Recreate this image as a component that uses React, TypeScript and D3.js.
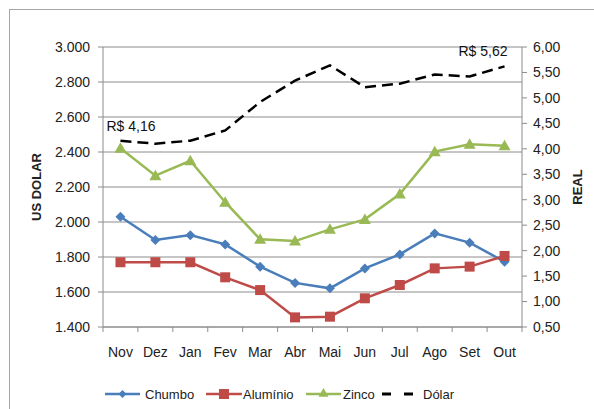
import * as d3 from 'd3';

const months = ['Nov', 'Dez', 'Jan', 'Fev', 'Mar', 'Abr', 'Mai', 'Jun', 'Jul', 'Ago', 'Set', 'Out'];
const chumbo = [2030, 1897, 1925, 1872, 1745, 1652, 1621, 1735, 1815, 1935, 1882, 1773];
const aluminio = [1770, 1770, 1770, 1684, 1611, 1455, 1459, 1564, 1640, 1735, 1745, 1806];
const zinco = [2421, 2265, 2350, 2113, 1901, 1891, 1958, 2015, 2160, 2402, 2444, 2436];
const dolar = [4.16, 4.1, 4.16, 4.36, 4.92, 5.34, 5.64, 5.21, 5.28, 5.46, 5.42, 5.62];
const leftTicks = [1400, 1600, 1800, 2000, 2200, 2400, 2600, 2800, 3000];
const rightTicks = [0.5, 1, 1.5, 2, 2.5, 3, 3.5, 4, 4.5, 5, 5.5, 6];

const W = 594;
const H = 409;
const FONT = '"Liberation Sans", Arial, sans-serif';
const BLUE = '#4a7ebb';
const RED = '#be4b48';
const GREEN = '#98b954';

const fmtLeft = (v: number) => d3.format(',')(v).replace(',', '.');
const fmtRight = (v: number) => v.toFixed(2).replace('.', ',');

export default function App() {
  const left = 103;
  const right = 522;
  const top = 47;
  const bottom = 327;

  const x = d3.scaleBand<string>().domain(months).range([left, right]).padding(0);
  const cx = (m: string) => (x(m) ?? 0) + x.bandwidth() / 2;
  const yL = d3.scaleLinear().domain([1400, 3000]).range([bottom, top]);
  const yR = d3.scaleLinear().domain([0.5, 6]).range([bottom, top]);

  const lineL = d3.line<number>().x((_, i) => cx(months[i])).y((d) => yL(d));
  const lineR = d3.line<number>().x((_, i) => cx(months[i])).y((d) => yR(d));

  const diamond = (px: number, py: number, s = 5) =>
    `M${px},${py - s}L${px + s},${py}L${px},${py + s}L${px - s},${py}Z`;
  const tri = (px: number, py: number, s = 6) =>
    `M${px},${py - s}L${px + s},${py + s * 0.75}L${px - s},${py + s * 0.75}Z`;

  const boundaries = months.map((m) => x(m) ?? 0).concat([right]);
  const last = months.length - 1;

  return (
    <svg width={W} height={H} style={{ position: 'absolute', left: 0, top: 0, background: '#fff' }}>
      <rect x={9.5} y={9.5} width={W + 10} height={H + 10} fill="#fff" stroke="#a6a6a6" />

      {/* gridlines */}
      {leftTicks.map((t) => (
        <line key={t} x1={left} x2={right} y1={yL(t)} y2={yL(t)} stroke="#8c8c8c" strokeWidth={1} />
      ))}

      {/* left axis */}
      <line x1={left} x2={left} y1={top} y2={bottom} stroke="#8c8c8c" />
      {leftTicks.map((t) => (
        <g key={'l' + t}>
          <line x1={left - 5} x2={left} y1={yL(t)} y2={yL(t)} stroke="#8c8c8c" />
          <text x={90} y={yL(t)} dy="0.35em" textAnchor="end" fontFamily={FONT} fontSize={14} fill="#222">
            {fmtLeft(t)}
          </text>
        </g>
      ))}

      {/* right axis */}
      <line x1={right} x2={right} y1={top} y2={bottom} stroke="#8c8c8c" />
      {rightTicks.map((t) => (
        <g key={'r' + t}>
          <line x1={right} x2={right + 5} y1={yR(t)} y2={yR(t)} stroke="#8c8c8c" />
          <text x={533} y={yR(t)} dy="0.35em" textAnchor="start" fontFamily={FONT} fontSize={14} fill="#222">
            {fmtRight(t)}
          </text>
        </g>
      ))}

      {/* bottom axis */}
      <line x1={left} x2={right} y1={bottom} y2={bottom} stroke="#8c8c8c" />
      {boundaries.map((b, i) => (
        <line key={'b' + i} x1={b} x2={b} y1={bottom} y2={bottom + 5} stroke="#8c8c8c" />
      ))}
      {months.map((m) => (
        <text key={m} x={cx(m)} y={352} dy="0.35em" textAnchor="middle" fontFamily={FONT} fontSize={14} fill="#222">
          {m}
        </text>
      ))}

      {/* axis titles */}
      <text transform={`translate(41,${(top + bottom) / 2}) rotate(-90)`} textAnchor="middle" fontFamily={FONT}
        fontWeight="bold" fontSize={13} fill="#222">US DOLAR</text>
      <text transform={`translate(582,${(top + bottom) / 2}) rotate(-90)`} textAnchor="middle" fontFamily={FONT}
        fontWeight="bold" fontSize={13} fill="#222">REAL</text>

      {/* series */}
      <path d={lineL(chumbo) ?? ''} fill="none" stroke={BLUE} strokeWidth={2.5} />
      <path d={lineL(aluminio) ?? ''} fill="none" stroke={RED} strokeWidth={2.5} />
      <path d={lineL(zinco) ?? ''} fill="none" stroke={GREEN} strokeWidth={2.5} />
      <path d={lineR(dolar) ?? ''} fill="none" stroke="#000" strokeWidth={2.5} strokeDasharray="11,6" />

      {chumbo.map((v, i) => (
        <path key={'c' + i} d={diamond(cx(months[i]), yL(v))} fill={BLUE} />
      ))}
      {aluminio.map((v, i) => (
        <rect key={'a' + i} x={cx(months[i]) - 5} y={yL(v) - 5} width={10} height={10} fill={RED} />
      ))}
      {zinco.map((v, i) => (
        <path key={'z' + i} d={tri(cx(months[i]), yL(v))} fill={GREEN} />
      ))}

      {/* dollar labels */}
      <text x={cx(months[0]) - 14} y={yR(dolar[0]) - 10} fontFamily={FONT} fontSize={14} fill="#111">
        {'R$ ' + fmtRight(dolar[0])}
      </text>
      <text x={cx(months[last]) + 3} y={yR(dolar[last]) - 10} textAnchor="end" fontFamily={FONT} fontSize={14} fill="#111">
        {'R$ ' + fmtRight(dolar[last])}
      </text>

      {/* legend */}
      <g fontFamily={FONT} fontSize={13} fill="#222">
        <line x1={105} x2={140} y1={394} y2={394} stroke={BLUE} strokeWidth={2.5} />
        <path d={diamond(122.5, 394, 4)} fill={BLUE} />
        <text x={145} y={394} dy="0.35em">Chumbo</text>

        <line x1={206} x2={242} y1={394} y2={394} stroke={RED} strokeWidth={2.5} />
        <rect x={219} y={389} width={10} height={10} fill={RED} />
        <text x={243} y={394} dy="0.35em">Alumínio</text>

        <line x1={306} x2={341} y1={394} y2={394} stroke={GREEN} strokeWidth={2.5} />
        <path d={tri(323.5, 393, 5)} fill={GREEN} />
        <text x={343} y={394} dy="0.35em">Zinco</text>

        <line x1={382} x2={413} y1={394} y2={394} stroke="#000" strokeWidth={3} strokeDasharray="9,13" />
        <text x={423} y={394} dy="0.35em">Dólar</text>
      </g>
    </svg>
  );
}
